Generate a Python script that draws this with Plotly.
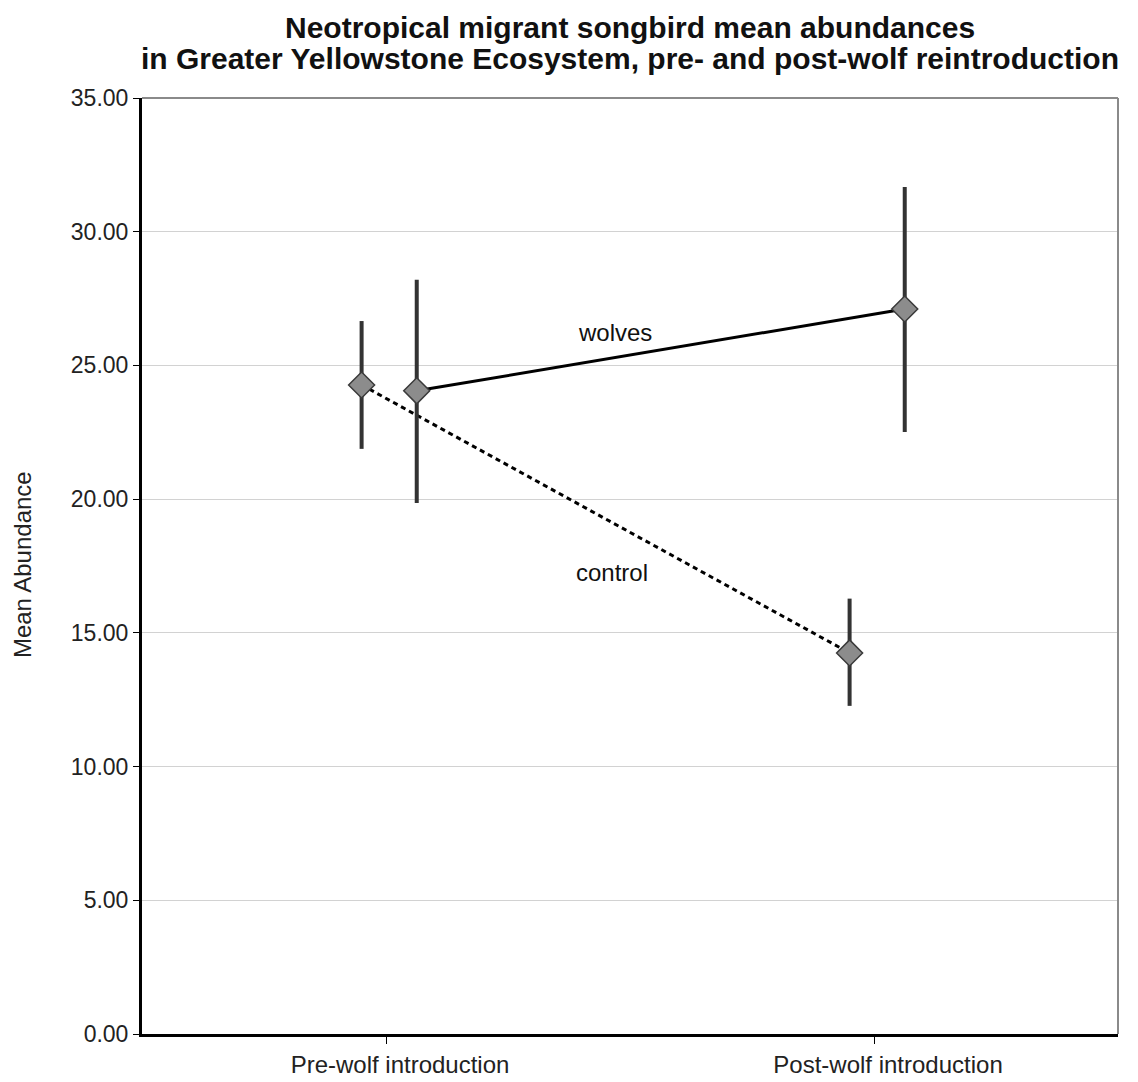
import plotly.graph_objects as go

categories = ["Pre-wolf introduction", "Post-wolf introduction"]
control_mean = [24.27, 14.25]
control_upper = [26.66, 16.28]
control_lower = [21.88, 12.27]
wolves_mean = [24.05, 27.11]
wolves_upper = [28.20, 31.67]
wolves_lower = [19.86, 22.51]
y_ticks = [0, 5, 10, 15, 20, 25, 30, 35]
title_lines = ["Neotropical migrant songbird mean abundances",
               "in Greater Yellowstone Ecosystem, pre- and post-wolf reintroduction"]

ctrl_off = -0.05
wolf_off = 0.063
xc = [i + ctrl_off for i in range(len(categories))]
xw = [i + wolf_off for i in range(len(categories))]

def errs(mean, up, lo):
    return [u - m for m, u in zip(mean, up)], [m - l for m, l in zip(mean, lo)]

cp, cm = errs(control_mean, control_upper, control_lower)
wp, wm = errs(wolves_mean, wolves_upper, wolves_lower)

FONT = "Liberation Sans, Arial"
mk = dict(symbol="diamond", size=20, color="#8c8c8c", line=dict(color="#3a3a3a", width=1.5))

fig = go.Figure()
fig.add_trace(go.Scatter(
    x=xc, y=control_mean, mode="lines+markers", name="control",
    line=dict(color="black", width=3, dash="5px,4px"), marker=mk,
    error_y=dict(type="data", symmetric=False, array=cp, arrayminus=cm,
                 color="#333333", thickness=4, width=0),
))
fig.add_trace(go.Scatter(
    x=xw, y=wolves_mean, mode="lines+markers", name="wolves",
    line=dict(color="black", width=3), marker=mk,
    error_y=dict(type="data", symmetric=False, array=wp, arrayminus=wm,
                 color="#333333", thickness=4, width=0),
))

fig.add_annotation(x=0.469, y=26.25, text="wolves", showarrow=False,
                   font=dict(family=FONT, size=24, color="#111"))
fig.add_annotation(x=0.463, y=17.24, text="control", showarrow=False,
                   font=dict(family=FONT, size=24, color="#111"))

# title lines
fig.add_annotation(xref="paper", yref="paper", x=0.5, y=1.0748, yanchor="middle",
                   text="<b>" + title_lines[0] + "</b>", showarrow=False,
                   font=dict(family=FONT, size=30, color="#111"))
fig.add_annotation(xref="paper", yref="paper", x=0.5, y=1.0427, yanchor="middle",
                   text="<b>" + title_lines[1] + "</b>", showarrow=False,
                   font=dict(family=FONT, size=30, color="#111"))

# y axis title
fig.add_annotation(xref="paper", yref="paper", x=-0.1229, y=0.501, textangle=-90,
                   text="Mean Abundance", showarrow=False, xanchor="center", yanchor="middle",
                   font=dict(family=FONT, size=24, color="#222"))

# top and right gray frame
fig.add_shape(type="line", xref="paper", yref="paper", x0=0, x1=1, y0=1, y1=1,
              line=dict(color="#8a8a8a", width=2))
fig.add_shape(type="line", xref="paper", yref="paper", x0=1, x1=1, y0=0, y1=1,
              line=dict(color="#8a8a8a", width=2))

fig.update_layout(
    width=1130, height=1074,
    margin=dict(l=134, r=20, t=90, b=48, autoexpand=False),
    paper_bgcolor="white", plot_bgcolor="white",
    showlegend=False,
    font=dict(family=FONT, color="#222"),
    xaxis=dict(
        range=[-0.5, 1.5], tickvals=list(range(len(categories))), ticktext=categories,
        showgrid=False, zeroline=False, showline=True, linecolor="black", linewidth=3,
        ticks="outside", ticklen=7, tickcolor="black", tickwidth=1, automargin=False,
        ticklabelshift=14,
        tickfont=dict(size=24, color="#222"),
    ),
    yaxis=dict(
        range=[0, 35], tickvals=y_ticks, tickformat=".2f",
        showgrid=True, gridcolor="#d2d2d2", gridwidth=1, zeroline=False,
        showline=True, linecolor="black", linewidth=3, automargin=False,
        ticks="outside", ticklen=6, tickcolor="black", tickwidth=1,
        tickfont=dict(size=23, color="#222"),
    ),
)

fig.write_html("out.html")
